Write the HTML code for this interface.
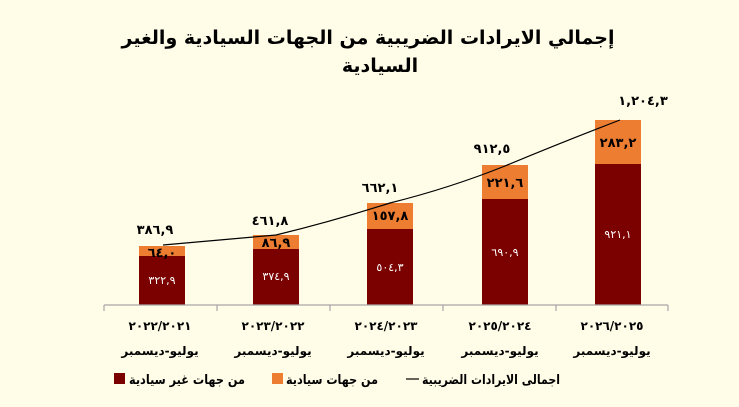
<!DOCTYPE html>
<html><head><meta charset="utf-8"><style>
html,body{margin:0;padding:0;background:#FFFDE8;}
svg{display:block;font-family:"DejaVu Sans","Liberation Sans",sans-serif;font-weight:bold;}
</style></head><body>
<svg width="739" height="407" viewBox="0 0 739 407" xmlns="http://www.w3.org/2000/svg">
<rect width="739" height="407" fill="#FFFDE8"/>
<g text-anchor="middle" fill="#000">
<text x="368" y="44" font-size="19" direction="rtl">إجمالي الايرادات الضريبية من الجهات السيادية والغير</text>
<text x="380" y="72" font-size="19" direction="rtl">السيادية</text>
</g>
<g>
<rect x="139" y="246" width="46" height="10" fill="#ED7D31"/><rect x="139" y="256" width="46" height="49" fill="#7B0000"/>
<rect x="253" y="235" width="46" height="14" fill="#ED7D31"/><rect x="253" y="249" width="46" height="56" fill="#7B0000"/>
<rect x="367" y="203" width="46" height="26" fill="#ED7D31"/><rect x="367" y="229" width="46" height="76" fill="#7B0000"/>
<rect x="482" y="165" width="46" height="34" fill="#ED7D31"/><rect x="482" y="199" width="46" height="106" fill="#7B0000"/>
<rect x="595" y="120" width="46" height="44" fill="#ED7D31"/><rect x="595" y="164" width="46" height="141" fill="#7B0000"/>
</g>
<path d="M104 305H668M104 305v6M217 305v6M330 305v6M443 305v6M556 305v6M668 305v6" stroke="#A6A6A6" stroke-width="1.2" fill="none"/>
<path d="M163 245 L276 235 Q330 222 390 203 Q450 188 505 166 Q560 143 620 120" stroke="#000" stroke-width="1.2" fill="none"/>
<g font-size="11" text-anchor="middle" fill="#fff" font-weight="normal">
<text x="162" y="284">٣٢٢,٩</text>
<text x="276" y="280">٣٧٤,٩</text>
<text x="390" y="271">٥٠٤,٣</text>
<text x="505" y="256">٦٩٠,٩</text>
<text x="618" y="238">٩٢١,١</text>
</g>
<g font-size="13" text-anchor="middle" fill="#000">
<text x="162" y="257">٦٤,٠</text>
<text x="276" y="247">٨٦,٩</text>
<text x="390" y="220">١٥٧,٨</text>
<text x="505" y="187">٢٢١,٦</text>
<text x="618" y="147">٢٨٣,٢</text>
<text x="155" y="234">٣٨٦,٩</text>
<text x="270" y="225">٤٦١,٨</text>
<text x="380" y="192">٦٦٢,١</text>
<text x="492" y="153">٩١٢,٥</text>
<text x="643" y="105">١,٢٠٤,٣</text>
</g>
<g font-size="12" text-anchor="middle" fill="#000">
<text x="160" y="330">٢٠٢٢/٢٠٢١</text>
<text x="273" y="330">٢٠٢٣/٢٠٢٢</text>
<text x="386" y="330">٢٠٢٤/٢٠٢٣</text>
<text x="500" y="330">٢٠٢٥/٢٠٢٤</text>
<text x="612" y="330">٢٠٢٦/٢٠٢٥</text>
<text x="160" y="355" direction="rtl">يوليو-ديسمبر</text>
<text x="273" y="355" direction="rtl">يوليو-ديسمبر</text>
<text x="386" y="355" direction="rtl">يوليو-ديسمبر</text>
<text x="500" y="355" direction="rtl">يوليو-ديسمبر</text>
<text x="612" y="355" direction="rtl">يوليو-ديسمبر</text>
</g>
<rect x="114" y="373" width="11" height="11" fill="#7B0000"/>
<rect x="272" y="373" width="11" height="11" fill="#ED7D31"/>
<line x1="406" y1="379" x2="419" y2="379" stroke="#000" stroke-width="1.2"/>
<g font-size="13" fill="#000" text-anchor="middle" direction="rtl">
<text x="187" y="384" textLength="116" lengthAdjust="spacingAndGlyphs">من جهات غير سيادية</text>
<text x="332" y="384" textLength="92" lengthAdjust="spacingAndGlyphs">من جهات سيادية</text>
<text x="491" y="384" textLength="138" lengthAdjust="spacingAndGlyphs">اجمالى الايرادات الضريبية</text>
</g>
</svg>
</body></html>
